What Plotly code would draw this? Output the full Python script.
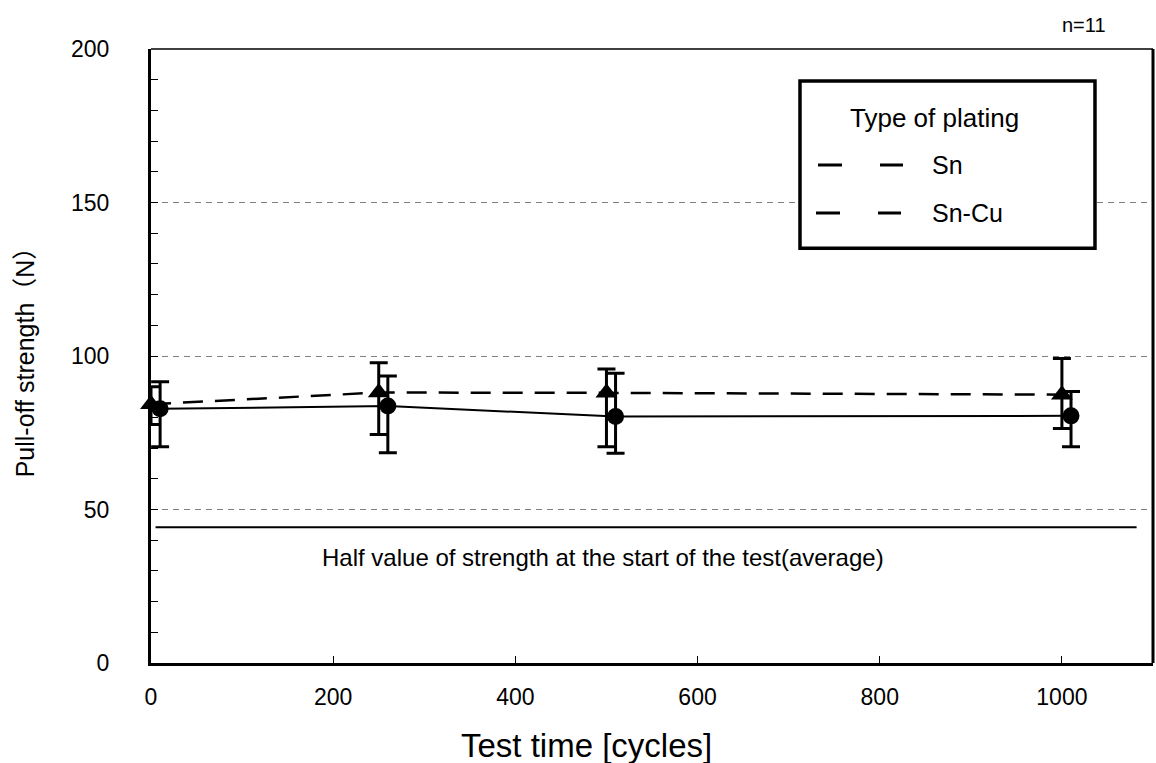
import numpy as np
import plotly.graph_objects as go

# ---- data ----
time_sn = [0, 250, 500, 1000]
time_sncu = [10, 260, 510, 1010]
sn_mean = [84.3, 88.1, 88.0, 87.4]
sn_high = [90.0, 97.8, 95.8, 99.2]
sn_low = [77.7, 74.4, 70.4, 76.4]
sncu_mean = [82.8, 83.7, 80.3, 80.5]
sncu_high = [91.6, 93.5, 94.4, 88.4]
sncu_low = [70.4, 68.5, 68.3, 70.4]
half_x = [5, 1082]
half_y = [44.2, 44.2]
x_ticks = [0, 200, 400, 600, 800, 1000]
y_ticks = [0, 50, 100, 150, 200]
series_names = ["Sn", "Sn-Cu"]
legend_title = "Type of plating"
half_label = "Half value of strength at the start of the test(average)"
n_label = "n=11"
x_title = "Test time [cycles]"
y_title = "Pull-off strength（N）"

FONT = "Liberation Sans, Arial, Noto Sans CJK JP, sans-serif"

fig = go.Figure()

fig.add_trace(go.Scatter(
    x=half_x, y=half_y, mode="lines",
    line=dict(color="black", width=2), showlegend=False, hoverinfo="skip"))

fig.add_trace(go.Scatter(
    x=time_sn, y=sn_mean, mode="lines+markers", name=series_names[0],
    line=dict(color="black", width=2.5, dash="20px,12px"),
    marker=dict(symbol="triangle-up", size=19, color="black"),
    error_y=dict(type="data", symmetric=False,
                 array=(np.array(sn_high) - np.array(sn_mean)).tolist(),
                 arrayminus=(np.array(sn_mean) - np.array(sn_low)).tolist(),
                 color="black", thickness=3, width=9),
    cliponaxis=False, showlegend=False))

fig.add_trace(go.Scatter(
    x=time_sncu, y=sncu_mean, mode="lines+markers", name=series_names[1],
    line=dict(color="black", width=2),
    marker=dict(symbol="circle", size=17, color="black"),
    error_y=dict(type="data", symmetric=False,
                 array=(np.array(sncu_high) - np.array(sncu_mean)).tolist(),
                 arrayminus=(np.array(sncu_mean) - np.array(sncu_low)).tolist(),
                 color="black", thickness=3, width=9),
    cliponaxis=False, showlegend=False))

# text annotations
fig.add_annotation(x=186, y=34.4, xref="x", yref="y", text=half_label,
                   showarrow=False, xanchor="left", yanchor="middle",
                   font=dict(size=24, color="black", family=FONT))
fig.add_annotation(x=0.955, y=1.039, xref="paper", yref="paper", text=n_label,
                   showarrow=False, xanchor="right", yanchor="middle",
                   font=dict(size=20, color="black", family=FONT))
# x-axis title (offset left of plot centre, as in the reference)
fig.add_annotation(x=0.435, y=-0.1345, xref="paper", yref="paper", text=x_title,
                   showarrow=False, xanchor="center", yanchor="middle",
                   font=dict(size=33, color="black", family=FONT))

# manual legend box
fig.add_shape(type="rect", xref="paper", yref="paper",
              x0=0.6477, x1=0.9421, y0=0.6756, y1=0.9478,
              line=dict(color="black", width=3.5), fillcolor="white", layer="above")
fig.add_annotation(x=0.6956, y=0.8875, xref="paper", yref="paper", text=legend_title,
                   showarrow=False, xanchor="left", yanchor="middle",
                   font=dict(size=26, color="black", family=FONT))
for i, (name, yy) in enumerate(zip(series_names, [0.8109, 0.7327])):
    x0 = (818 - 2 * i - 151) / 1002
    x1 = (903 - 2 * i - 151) / 1002
    fig.add_shape(type="line", xref="paper", yref="paper", x0=x0, x1=x1, y0=yy, y1=yy,
                  line=dict(color="black", width=3, dash="24px,38px"), layer="above")
    fig.add_annotation(x=0.7774, y=yy, xref="paper", yref="paper", text=name,
                       showarrow=False, xanchor="left", yanchor="middle",
                       font=dict(size=25, color="black", family=FONT))

# border: top (thin) and right (thick)
fig.add_shape(type="line", xref="paper", yref="paper", x0=0, x1=1, y0=1, y1=1,
              line=dict(color="black", width=1.5), layer="above")
fig.add_shape(type="line", xref="paper", yref="paper", x0=1, x1=1, y0=0, y1=1,
              line=dict(color="black", width=3), layer="above")

fig.update_layout(
    width=1156, height=763,
    margin=dict(l=151, r=3, t=49, b=100, pad=0),
    paper_bgcolor="white", plot_bgcolor="white",
    font=dict(family=FONT, color="black"),
    showlegend=False,
)
fig.update_xaxes(
    range=[0, 1100], tickvals=x_ticks, ticktext=[str(v) for v in x_ticks],
    ticks="inside", ticklen=7, tickwidth=1, tickcolor="black",
    showline=True, linewidth=3, linecolor="black",
    showgrid=False, zeroline=False,
    tickfont=dict(size=23, family=FONT), ticklabelstandoff=11,
)
fig.update_yaxes(
    range=[0, 200], tickvals=y_ticks, ticktext=[str(v) for v in y_ticks],
    ticks="inside", ticklen=7, tickwidth=1, tickcolor="black",
    minor=dict(dtick=10, ticks="inside", ticklen=7, tickwidth=1, tickcolor="black", showgrid=False),
    showline=True, linewidth=3, linecolor="black",
    showgrid=True, gridcolor="#808080", gridwidth=1, griddash="6px,5px",
    zeroline=False,
    tickfont=dict(size=23, family=FONT), ticklabelstandoff=34,
    title=dict(text=y_title, font=dict(size=25, family=FONT), standoff=30),
)

fig.write_html("out.html", config={"displayModeBar": False},
               post_script="document.body.style.margin='0';document.body.style.overflow='hidden';")
